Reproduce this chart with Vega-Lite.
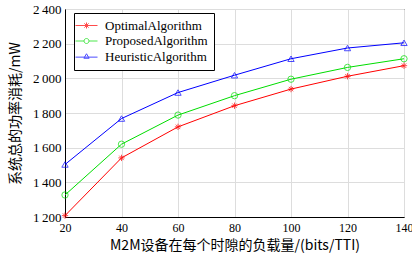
{
  "$schema": "https://vega.github.io/schema/vega-lite/v6.json",
  "width": 339,
  "height": 208,
  "autosize": {"type": "none"},
  "padding": {"left": 65, "top": 9, "right": 8, "bottom": 45},
  "background": "white",
  "config": {
    "view": {"stroke": "black", "strokeWidth": 1},
    "font": "Liberation Serif",
    "legend": {
      "labelFont": "Liberation Serif",
      "labelFontSize": 13,
      "labelColor": "black"
    }
  },
  "data": {
    "values": [
      {"load": 20, "power": 1208, "alg": "OptimalAlgorithm"},
      {"load": 40, "power": 1541, "alg": "OptimalAlgorithm"},
      {"load": 60, "power": 1720, "alg": "OptimalAlgorithm"},
      {"load": 80, "power": 1842, "alg": "OptimalAlgorithm"},
      {"load": 100, "power": 1938, "alg": "OptimalAlgorithm"},
      {"load": 120, "power": 2012, "alg": "OptimalAlgorithm"},
      {"load": 140, "power": 2073, "alg": "OptimalAlgorithm"},
      {"load": 20, "power": 1327, "alg": "ProposedAlgorithm"},
      {"load": 40, "power": 1620, "alg": "ProposedAlgorithm"},
      {"load": 60, "power": 1788, "alg": "ProposedAlgorithm"},
      {"load": 80, "power": 1900, "alg": "ProposedAlgorithm"},
      {"load": 100, "power": 1995, "alg": "ProposedAlgorithm"},
      {"load": 120, "power": 2063, "alg": "ProposedAlgorithm"},
      {"load": 140, "power": 2113, "alg": "ProposedAlgorithm"},
      {"load": 20, "power": 1503, "alg": "HeuristicAlgorithm"},
      {"load": 40, "power": 1768, "alg": "HeuristicAlgorithm"},
      {"load": 60, "power": 1918, "alg": "HeuristicAlgorithm"},
      {"load": 80, "power": 2018, "alg": "HeuristicAlgorithm"},
      {"load": 100, "power": 2113, "alg": "HeuristicAlgorithm"},
      {"load": 120, "power": 2175, "alg": "HeuristicAlgorithm"},
      {"load": 140, "power": 2205, "alg": "HeuristicAlgorithm"}
    ]
  },
  "encoding": {
    "x": {
      "field": "load", "type": "quantitative",
      "scale": {"domain": [20, 140], "nice": false, "zero": false},
      "axis": {"values": [20, 40, 60, 80, 100, 120, 140], "title": "M2M设备在每个时隙的负载量/(bits/TTI)",
        "labelFont": "Liberation Serif", "labelFontSize": 12, "labelColor": "black", "labelFlush": false,
        "titleFont": "Noto Sans CJK SC", "titleFontSize": 14, "titleFontWeight": "normal", "titleColor": "black",
        "domainColor": "black", "tickSize": 0, "gridColor": "#dddddd",
        "labelPadding": 5, "titlePadding": 5, "grid": true}
    },
    "y": {
      "field": "power", "type": "quantitative",
      "scale": {"domain": [1200, 2400], "nice": false, "zero": false},
      "axis": {"values": [1200, 1400, 1600, 1800, 2000, 2200, 2400], "title": "系统总的功率消耗/mW",
        "labelFont": "Liberation Serif", "labelFontSize": 13, "labelColor": "black", "labelFlush": false,
        "titleFont": "Noto Sans CJK SC", "titleFontSize": 14, "titleFontWeight": "normal", "titleColor": "black",
        "domainColor": "black", "tickSize": 0, "gridColor": "#dddddd",
        "labelPadding": 4, "titlePadding": 10, "grid": true,
        "labelExpr": "floor(datum.value/1000) + '\u2009' + format(datum.value % 1000, '03d')"}
    }
  },
  "resolve": {"scale": {"shape": "independent", "color": "independent"}, "legend": {"shape": "independent", "color": "independent"}},
  "layer": [
    {
      "mark": {"type": "line", "strokeWidth": 1},
      "encoding": {
        "color": {
          "field": "alg", "type": "nominal",
          "scale": {"domain": ["OptimalAlgorithm", "ProposedAlgorithm", "HeuristicAlgorithm"], "range": ["#ff0000", "#00dd00", "#0000ff"]},
          "legend": null
        }
      }
    },
    {
      "mark": {"type": "point", "filled": false, "size": 40, "strokeWidth": 1},
      "encoding": {
        "color": {
          "field": "alg", "type": "nominal",
          "scale": {"domain": ["OptimalAlgorithm", "ProposedAlgorithm", "HeuristicAlgorithm"], "range": ["#ff0000", "#00dd00", "#0000ff"]},
          "legend": null
        },
        "shape": {
          "field": "alg", "type": "nominal",
          "scale": {"domain": ["OptimalAlgorithm", "ProposedAlgorithm", "HeuristicAlgorithm"],
            "range": ["M-1,0L1,0M0,-1L0,1M-0.7,-0.7L0.7,0.7M-0.7,0.7L0.7,-0.7", "circle", "triangle-up"]},
          "legend": null
        }
      }
    },
    {
      "transform": [{"filter": "datum.load < 0"}],
      "mark": {"type": "point", "filled": false, "size": 25, "strokeWidth": 1},
      "encoding": {
        "color": {
          "field": "alg", "type": "nominal",
          "scale": {"domain": ["OptimalAlgorithm", "ProposedAlgorithm", "HeuristicAlgorithm"], "range": ["#ff0000", "#00dd00", "#0000ff"]},
          "legend": {
            "title": null,
            "orient": "none",
            "legendX": 9,
            "legendY": 4,
            "fillColor": "white",
            "strokeColor": "black",
            "padding": 6,
            "rowPadding": 1.5,
            "symbolSize": 25,
            "symbolStrokeWidth": 1,
            "labelOffset": 12
          }
        },
        "shape": {
          "field": "alg", "type": "nominal",
          "scale": {"domain": ["OptimalAlgorithm", "ProposedAlgorithm", "HeuristicAlgorithm"],
            "range": ["M-4.4,0L4.4,0M-1.2,0L1.2,0M0,-1.2L0,1.2M-0.85,-0.85L0.85,0.85M-0.85,0.85L0.85,-0.85", "M-4.4,0L-1,0M1,0L4.4,0M1,0A1,1,0,1,1,-1,0A1,1,0,1,1,1,0", "M-4.4,0.25L4.4,0.25M0,-1.1L1.05,0.7L-1.05,0.7Z"]},
          "legend": {
            "title": null,
            "orient": "none",
            "legendX": 9,
            "legendY": 4,
            "fillColor": "white",
            "strokeColor": "black",
            "padding": 6,
            "rowPadding": 1.5,
            "symbolSize": 25,
            "symbolStrokeWidth": 1,
            "labelOffset": 12
          }
        }
      }
    }
  ]
}
